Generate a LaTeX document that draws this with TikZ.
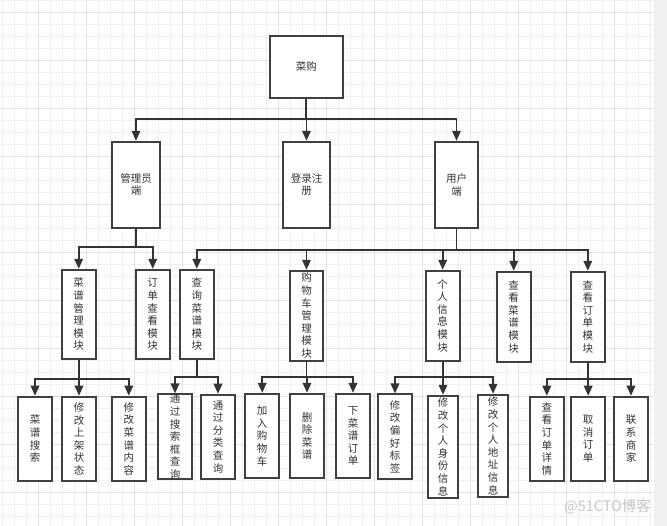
\documentclass[tikz,border=0pt]{standalone}
\usepackage{fontspec}
\newfontfamily\cjk{Noto Sans CJK SC}
\usetikzlibrary{arrows.meta}
\definecolor{gridminor}{HTML}{F0F0F0}
\definecolor{gridmajor}{HTML}{E2E2E2}
\definecolor{strip}{HTML}{F0F0F0}
\definecolor{boxline}{HTML}{404040}
\definecolor{connline}{HTML}{333333}
\definecolor{txt}{HTML}{333333}
\definecolor{wm}{HTML}{C8C8C8}
\tikzset{
  box/.style={draw=boxline, line width=1.8pt, fill=white, inner sep=0pt,
    align=center, text=txt, font=\cjk\fontsize{10.5}{12.6}\selectfont},
  conn/.style={draw=connline, line width=1.8pt,
    -{Triangle[width=8.5pt,length=10pt]}},
  gminor/.style={draw=gridminor, line width=1pt},
  gmajor/.style={draw=gridmajor, line width=1pt}
}
\begin{document}
\begin{tikzpicture}[x=1pt,y=-1pt]
\useasboundingbox (0,0) rectangle (667,526);
\fill[white] (0,0) rectangle (667,526);
% grid
\foreach \i in {0,...,54} {\draw[gminor] (2.3+12*\i,0) -- (2.3+12*\i,526);}
\foreach \i in {0,...,43} {\draw[gminor] (0,0.3+12*\i) -- (654,0.3+12*\i);}
\foreach \i in {0,...,13} {\draw[gmajor] (38.3+48*\i,0) -- (38.3+48*\i,526);}
\foreach \i in {0,...,10} {\draw[gmajor] (0,12.3+48*\i) -- (654,12.3+48*\i);}
\fill[strip] (654,0) rectangle (667,526);

% level 0
\node[box, minimum width=72.7, minimum height=62] (top) at (306.3,66.7) {菜购};
% level 1
\node[box, minimum width=48, minimum height=86] (admin) at (136,184.7) {管理员\\端};
\node[box, minimum width=47.6, minimum height=86] (login) at (306.5,184.7) {登录注\\册};
\node[box, minimum width=43.6, minimum height=86] (user) at (456.5,184.7) {用户\\端};
% level 2
\node[box, minimum width=34, minimum height=89.6] (m1) at (78.7,314.5) {菜\\谱\\管\\理\\模\\块};
\node[box, minimum width=34, minimum height=89.6] (m2) at (152.7,314.5) {订\\单\\查\\看\\模\\块};
\node[box, minimum width=33.7, minimum height=89.6] (m3) at (196.8,314.5) {查\\询\\菜\\谱\\模\\块};
\node[box, minimum width=33.6, minimum height=90] (m4) at (306.5,315.7) {购\\物\\车\\管\\理\\模\\块};
\node[box, minimum width=34, minimum height=90] (m5) at (442.7,315.7) {个\\人\\信\\息\\模\\块};
\node[box, minimum width=34, minimum height=90] (m6) at (513.7,316.7) {查\\看\\菜\\谱\\模\\块};
\node[box, minimum width=33.7, minimum height=90] (m7) at (587.8,316.7) {查\\看\\订\\单\\模\\块};
% level 3
\node[box, minimum width=34.6, minimum height=84.3] (a1) at (35,438.8) {菜\\谱\\搜\\索};
\node[box, minimum width=34.6, minimum height=84.3] (a2) at (79,438.8) {修\\改\\上\\架\\状\\态};
\node[box, minimum width=34.3, minimum height=84.3] (a3) at (128.8,438.8) {修\\改\\菜\\谱\\内\\容};
\node[box, minimum width=34.6, minimum height=84.3] (b1) at (175,436.8) {通\\过\\搜\\索\\框\\查\\询};
\node[box, minimum width=34.6, minimum height=84.3] (b2) at (218,436.8) {通\\过\\分\\类\\查\\询};
\node[box, minimum width=34.3, minimum height=84.6] (c1) at (262.2,436) {加\\入\\购\\物\\车};
\node[box, minimum width=34.6, minimum height=84.6] (c2) at (307,436) {删\\除\\菜\\谱};
\node[box, minimum width=34.6, minimum height=84.6] (c3) at (353,436) {下\\菜\\谱\\订\\单};
\node[box, minimum width=34.6, minimum height=84.7] (d1) at (395,436.7) {修\\改\\偏\\好\\标\\签};
\node[box, minimum width=30.6, minimum height=102.6] (d2) at (443,447) {修\\改\\个\\人\\身\\份\\信\\息};
\node[box, minimum width=30.6, minimum height=102.6] (d3) at (493,446) {修\\改\\个\\人\\地\\址\\信\\息};
\node[box, minimum width=34.3, minimum height=84.3] (e1) at (546.8,438.8) {查\\看\\订\\单\\详\\情};
\node[box, minimum width=34.3, minimum height=84.3] (e2) at (588.2,438.8) {取\\消\\订\\单};
\node[box, minimum width=34.6, minimum height=84.3] (e3) at (631,438.8) {联\\系\\商\\家};

% bus levels
\coordinate (y0) at (0,119.3);
\coordinate (ya) at (0,247.3);
\coordinate (yu) at (0,249.7);
\coordinate (ym1) at (0,379);
\coordinate (ym3) at (0,377.3);
\coordinate (ym4) at (0,377.3);
\coordinate (ym5) at (0,377.3);
\coordinate (ym7) at (0,379);

% connectors
\foreach \c in {admin,login,user} {\draw[conn] (top.south) -- (top.south |- y0) -| (\c.north);}
\foreach \c in {m1,m2} {\draw[conn] (admin.south) -- (admin.south |- ya) -| (\c.north);}
\foreach \c in {m3,m4,m5,m6,m7} {\draw[conn] (user.south) -- (user.south |- yu) -| (\c.north);}
\foreach \c in {a1,a2,a3} {\draw[conn] (m1.south) -- (m1.south |- ym1) -| (\c.north);}
\foreach \c in {b1,b2} {\draw[conn] (m3.south) -- (m3.south |- ym3) -| (\c.north);}
\foreach \c in {c1,c2,c3} {\draw[conn] (m4.south) -- (m4.south |- ym4) -| (\c.north);}
\foreach \c in {d1,d2,d3} {\draw[conn] (m5.south) -- (m5.south |- ym5) -| (\c.north);}
\foreach \c in {e1,e2,e3} {\draw[conn] (m7.south) -- (m7.south |- ym7) -| (\c.north);}

% watermark
\node[text=wm, font=\cjk\fontsize{14.5}{16}\selectfont, inner sep=0pt] (wmk) at (607.5,507) {@51CTO博客};
\end{tikzpicture}
\end{document}
